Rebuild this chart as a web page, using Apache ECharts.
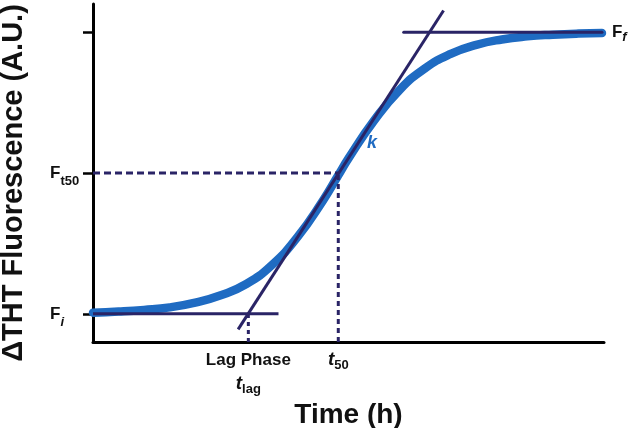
<!DOCTYPE html>
<html><head><meta charset="utf-8">
<script src="https://cdn.jsdelivr.net/npm/echarts@6/dist/echarts.min.js"></script>
<style>html,body{margin:0;padding:0;background:#fff}#c{width:633px;height:428px}</style>
</head><body><div id="c"></div>
<script>
// ---- data ----
const time = [0, 5, 10, 15, 20, 25, 30, 35, 40, 45, 48, 50, 55, 60, 65, 70, 75, 80, 85, 90, 95, 99.6];
const fluorescence = [10.4, 10.8, 11.4, 12.3, 14.0, 16.6, 20.6, 27.3, 37.2, 50.2, 59.2, 65.2, 78.6, 89.5, 97.2, 102.3, 105.5, 107.4, 108.5, 109.1, 109.5, 109.7];
const F_i = 10, F_t50 = 60, F_f = 110;
const t_lag = 30.4, t_50 = 48;
const baselineEnds = [0, 36.3];
const plateauEnds = [60.8, 99.6];
const tangentT = [28.4, 68.6];
const tangentF = [4.5, 117.7];
const kLabelPos = [54.6, 70.5];
const yTickValues = [F_i, F_t50, F_f];
const yLabelValues = [F_i, F_t50];
const xLabelValues = [t_lag, t_50];

const FONT = 'Liberation Sans, Arial, Helvetica, sans-serif';
const NAVY = '#2a2466';
const BLUE = '#1f6bc2';

const chart = echarts.init(document.getElementById('c'), null, {renderer: 'canvas'});
const curve = time.map((t, i) => [t, fluorescence[i]]);

chart.setOption({
  animation: false,
  backgroundColor: '#fff',
  grid: {left: 93, right: 29, top: 4, bottom: 86, outerBoundsMode: 'none'},
  xAxis: {
    type: 'value', min: 0, max: 100,
    splitLine: {show: false},
    axisLine: {show: true, onZero: false, lineStyle: {color: '#000', width: 3}},
    axisTick: {show: false},
    axisLabel: {
      show: true, customValues: xLabelValues, margin: 6,
      formatter: v => v === t_lag ? '{lp|Lag Phase}\n{t|t}{s|lag}' : '{t|t}{s|50}',
      rich: {
        lp: {fontFamily: FONT, fontWeight: 'bold', fontSize: 17, color: '#111', lineHeight: 24, align: 'center'},
        t: {fontFamily: FONT, fontWeight: 'bold', fontStyle: 'italic', fontSize: 19, color: '#111', lineHeight: 24},
        s: {fontFamily: FONT, fontWeight: 'bold', fontSize: 13, color: '#111', lineHeight: 24, verticalAlign: 'bottom'}
      }
    },
    name: 'Time (h)', nameLocation: 'middle', nameGap: 48,
    nameTextStyle: {fontFamily: FONT, fontWeight: 'bold', fontSize: 28, color: '#111'}
  },
  yAxis: {
    type: 'value', min: 0, max: 120,
    splitLine: {show: false},
    axisLine: {show: true, onZero: false, lineStyle: {color: '#000', width: 3}},
    axisTick: {show: true, customValues: yTickValues, length: 10, inside: false, lineStyle: {color: '#000', width: 2.5}},
    axisLabel: {
      show: true, customValues: yLabelValues, margin: 43, align: 'left',
      formatter: v => v === F_i ? '{F|F}{si|i}' : '{F|F}{s|t50}',
      rich: {
        F: {fontFamily: FONT, fontWeight: 'bold', fontSize: 17, color: '#111', lineHeight: 30},
        s: {fontFamily: FONT, fontWeight: 'bold', fontSize: 13, color: '#111', lineHeight: 30, verticalAlign: 'bottom'},
        si: {fontFamily: FONT, fontWeight: 'bold', fontStyle: 'italic', fontSize: 13, color: '#111', lineHeight: 30, verticalAlign: 'bottom'}
      }
    }
  },
  graphic: [{
    type: 'text', x: 14, y: 183, rotation: Math.PI / 2,
    style: {text: 'ΔTHT Fluorescence (A.U.)', fontFamily: FONT, fontWeight: 'bold', fontSize: 29, fill: '#111', align: 'center', verticalAlign: 'middle'}
  }],
  series: [
    {type: 'line', data: curve, smooth: 0.5, showSymbol: false, z: 2,
     lineStyle: {color: BLUE, width: 8.5, cap: 'round'}},
    {type: 'line', data: [[baselineEnds[0], F_i], [baselineEnds[1], F_i]], showSymbol: false, z: 3,
     lineStyle: {color: NAVY, width: 3}},
    {type: 'line', data: [[plateauEnds[0], F_f], [plateauEnds[1], F_f]], showSymbol: false, z: 3,
     lineStyle: {color: NAVY, width: 3, cap: 'round'},
     endLabel: {show: true, distance: 10, formatter: '{F|F}{s|f}',
       rich: {
         F: {fontFamily: FONT, fontWeight: 'bold', fontSize: 17, color: '#111', lineHeight: 24},
         s: {fontFamily: FONT, fontWeight: 'bold', fontStyle: 'italic', fontSize: 13, color: '#111', lineHeight: 24, verticalAlign: 'bottom'}
       }}},
    {type: 'line', data: [[tangentT[0], tangentF[0]], [tangentT[1], tangentF[1]]], showSymbol: false, z: 4,
     lineStyle: {color: NAVY, width: 3},
     markPoint: {symbol: 'circle', symbolSize: 0, data: [{coord: kLabelPos}],
       label: {show: true, position: 'inside', formatter: 'k', fontFamily: FONT, fontWeight: 'bold', fontStyle: 'italic', fontSize: 18, color: BLUE}}},
    {type: 'line', data: [[0, F_t50], [t_50, F_t50]], showSymbol: false, z: 3,
     lineStyle: {color: NAVY, width: 3, type: [7, 4]}},
    {type: 'line', data: [[t_50, 0], [t_50, F_t50]], showSymbol: false, z: 3,
     lineStyle: {color: NAVY, width: 3, type: [5, 4]}},
    {type: 'line', data: [[t_lag, 0], [t_lag, F_i]], showSymbol: false, z: 3,
     lineStyle: {color: NAVY, width: 3, type: [4, 4]}}
  ]
});
</script></body></html>
